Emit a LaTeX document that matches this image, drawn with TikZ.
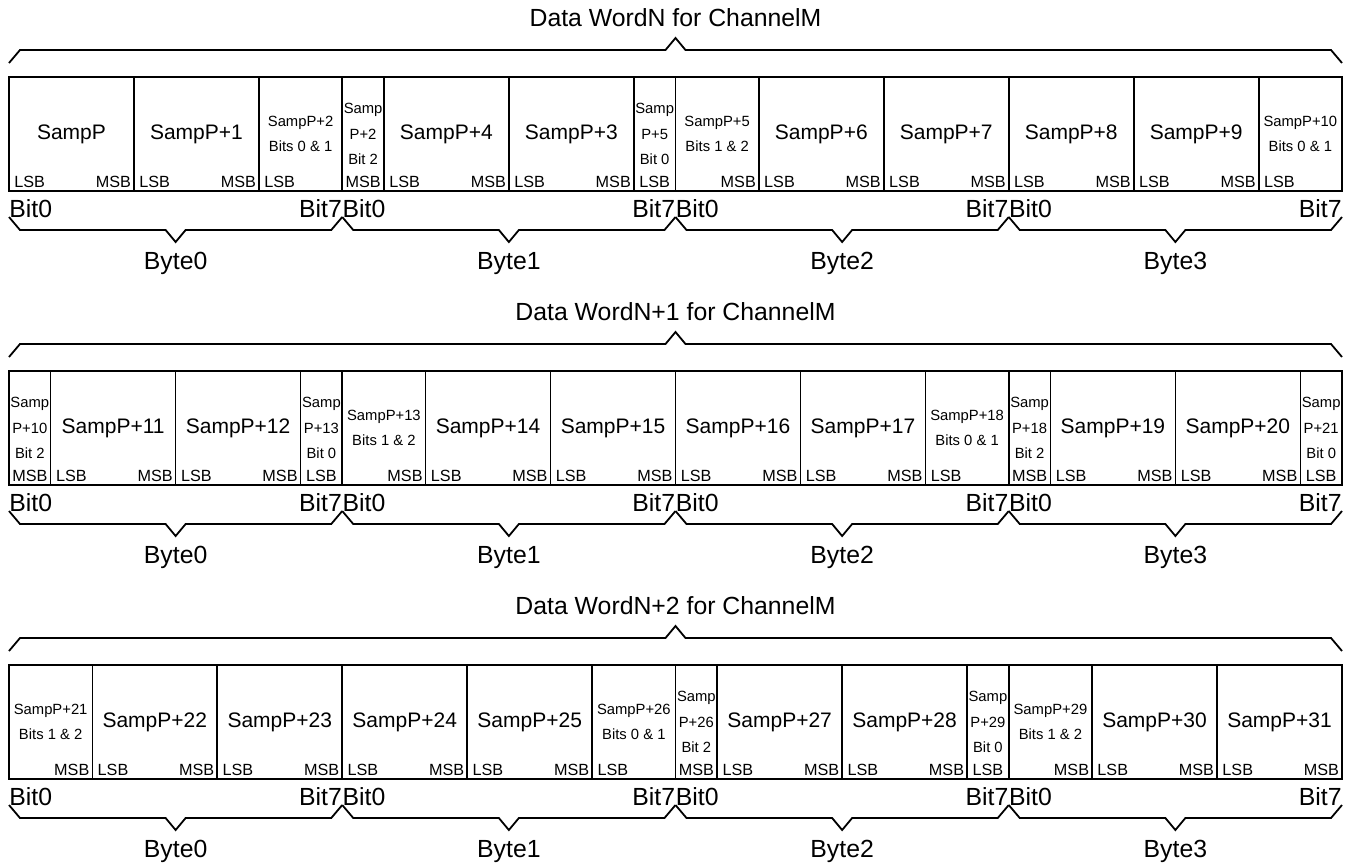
\documentclass[tikz,border=0pt]{standalone}
\usepackage{fontspec}
\setmainfont{Liberation Sans}
\usepackage{tikz}

% square brace: ends at y #3, flat part at y #4, tip at y #5
\newcommand{\wordbrace}[5]{%
  \draw[braceline] (#1,#3) -- ({#1+0.264},#4) -- ({(#1+#2)/2-0.24},#4) -- ({(#1+#2)/2},#5)
    -- ({(#1+#2)/2+0.24},#4) -- ({#2-0.264},#4) -- (#2,#3);}

% Bit0 / Bit7 labels, byte braces and byte names under one word
\newcommand{\bytescale}[1]{%
  \foreach \k in {0,1,2,3}{%
    \node[big, anchor=base west] (#1lo\k) at (8*\k,217) {Bit0};
    \node[big, anchor=base east] (#1hi\k) at (8*\k+8,217) {Bit7};
    \wordbrace{8*\k}{8*\k+8}{217}{230}{242}
    \node[big, anchor=base] (#1by\k) at (8*\k+4,269) {Byte\k};
  }}

\begin{document}
\begin{tikzpicture}[x=20.828pt, y=-0.5pt,
  big/.style={font=\fontsize{12.4}{14}\selectfont, inner sep=0pt},
  braceline/.style={line width=0.9pt, line join=miter},
  frame/.style={line width=1.3pt},
  cell/.style={draw, line width=0.8pt, inner sep=0pt, outer sep=0pt, minimum height=57pt, anchor=north west},
  w3/.style={cell, minimum width=62.48pt, font=\fontsize{10.5}{12}\selectfont},
  w2/.style={cell, minimum width=41.66pt, align=center, font=\fontsize{7.4}{12.6}\selectfont},
  w1/.style={cell, minimum width=20.83pt, align=center, font=\fontsize{7.4}{12.6}\selectfont},
  lsb/.style={font=\fontsize{8.1}{9}\selectfont, inner sep=1.3pt, anchor=south west, xshift=1.2pt},
  msb/.style={font=\fontsize{8.1}{9}\selectfont, inner sep=1.3pt, anchor=south east},
  mid/.style={font=\fontsize{8.1}{9}\selectfont, inner sep=1.3pt, anchor=south}]
  \useasboundingbox (-0.216,0) rectangle (32.24,862);

  % --- Word N ---
  \node[big, anchor=base] (t1) at (16,26) {Data WordN for ChannelM};
  \wordbrace{0}{32}{63}{50}{38}
  \node[w3] (a1) at (0,77) {SampP};    \node[lsb] (a1l) at (a1.south west) {LSB}; \node[msb] (a1m) at (a1.south east) {MSB};
  \node[w3] (a2) at (3,77) {SampP+1};  \node[lsb] (a2l) at (a2.south west) {LSB}; \node[msb] (a2m) at (a2.south east) {MSB};
  \node[w2] (a3) at (6,77) {SampP+2\\Bits 0 \& 1}; \node[lsb] (a3l) at (a3.south west) {LSB};
  \node[w1] (a4) at (8,77) {Samp\\P+2\\Bit 2};     \node[mid] (a4m) at (a4.south) {MSB};
  \node[w3] (a5) at (9,77) {SampP+4};  \node[lsb] (a5l) at (a5.south west) {LSB}; \node[msb] (a5m) at (a5.south east) {MSB};
  \node[w3] (a6) at (12,77) {SampP+3}; \node[lsb] (a6l) at (a6.south west) {LSB}; \node[msb] (a6m) at (a6.south east) {MSB};
  \node[w1] (a7) at (15,77) {Samp\\P+5\\Bit 0};    \node[mid] (a7l) at (a7.south) {LSB};
  \node[w2] (a8) at (16,77) {SampP+5\\Bits 1 \& 2}; \node[msb] (a8m) at (a8.south east) {MSB};
  \node[w3] (a9) at (18,77) {SampP+6}; \node[lsb] (a9l) at (a9.south west) {LSB}; \node[msb] (a9m) at (a9.south east) {MSB};
  \node[w3] (a10) at (21,77) {SampP+7}; \node[lsb] (a10l) at (a10.south west) {LSB}; \node[msb] (a10m) at (a10.south east) {MSB};
  \node[w3] (a11) at (24,77) {SampP+8}; \node[lsb] (a11l) at (a11.south west) {LSB}; \node[msb] (a11m) at (a11.south east) {MSB};
  \node[w3] (a12) at (27,77) {SampP+9}; \node[lsb] (a12l) at (a12.south west) {LSB}; \node[msb] (a12m) at (a12.south east) {MSB};
  \node[w2] (a13) at (30,77) {SampP+10\\Bits 0 \& 1}; \node[lsb] (a13l) at (a13.south west) {LSB};
  \draw[frame] (0,77) rectangle (32,191);
  \bytescale{a}

  % --- Word N+1 ---
  \begin{scope}[yshift=-147pt]
  \node[big, anchor=base] (t2) at (16,26) {Data WordN+1 for ChannelM};
  \wordbrace{0}{32}{63}{50}{38}
  \node[w1] (b1) at (0,77) {Samp\\P+10\\Bit 2};    \node[mid] (b1m) at (b1.south) {MSB};
  \node[w3] (b2) at (1,77) {SampP+11}; \node[lsb] (b2l) at (b2.south west) {LSB}; \node[msb] (b2m) at (b2.south east) {MSB};
  \node[w3] (b3) at (4,77) {SampP+12}; \node[lsb] (b3l) at (b3.south west) {LSB}; \node[msb] (b3m) at (b3.south east) {MSB};
  \node[w1] (b4) at (7,77) {Samp\\P+13\\Bit 0};    \node[mid] (b4l) at (b4.south) {LSB};
  \node[w2] (b5) at (8,77) {SampP+13\\Bits 1 \& 2}; \node[msb] (b5m) at (b5.south east) {MSB};
  \node[w3] (b6) at (10,77) {SampP+14}; \node[lsb] (b6l) at (b6.south west) {LSB}; \node[msb] (b6m) at (b6.south east) {MSB};
  \node[w3] (b7) at (13,77) {SampP+15}; \node[lsb] (b7l) at (b7.south west) {LSB}; \node[msb] (b7m) at (b7.south east) {MSB};
  \node[w3] (b8) at (16,77) {SampP+16}; \node[lsb] (b8l) at (b8.south west) {LSB}; \node[msb] (b8m) at (b8.south east) {MSB};
  \node[w3] (b9) at (19,77) {SampP+17}; \node[lsb] (b9l) at (b9.south west) {LSB}; \node[msb] (b9m) at (b9.south east) {MSB};
  \node[w2] (b10) at (22,77) {SampP+18\\Bits 0 \& 1}; \node[lsb] (b10l) at (b10.south west) {LSB};
  \node[w1] (b11) at (24,77) {Samp\\P+18\\Bit 2};   \node[mid] (b11m) at (b11.south) {MSB};
  \node[w3] (b12) at (25,77) {SampP+19}; \node[lsb] (b12l) at (b12.south west) {LSB}; \node[msb] (b12m) at (b12.south east) {MSB};
  \node[w3] (b13) at (28,77) {SampP+20}; \node[lsb] (b13l) at (b13.south west) {LSB}; \node[msb] (b13m) at (b13.south east) {MSB};
  \node[w1] (b14) at (31,77) {Samp\\P+21\\Bit 0};   \node[mid] (b14l) at (b14.south) {LSB};
  \draw[frame] (0,77) rectangle (32,191);
  \bytescale{b}
  \end{scope}

  % --- Word N+2 ---
  \begin{scope}[yshift=-294pt]
  \node[big, anchor=base] (t3) at (16,26) {Data WordN+2 for ChannelM};
  \wordbrace{0}{32}{63}{50}{38}
  \node[w2] (c1) at (0,77) {SampP+21\\Bits 1 \& 2}; \node[msb] (c1m) at (c1.south east) {MSB};
  \node[w3] (c2) at (2,77) {SampP+22}; \node[lsb] (c2l) at (c2.south west) {LSB}; \node[msb] (c2m) at (c2.south east) {MSB};
  \node[w3] (c3) at (5,77) {SampP+23}; \node[lsb] (c3l) at (c3.south west) {LSB}; \node[msb] (c3m) at (c3.south east) {MSB};
  \node[w3] (c4) at (8,77) {SampP+24}; \node[lsb] (c4l) at (c4.south west) {LSB}; \node[msb] (c4m) at (c4.south east) {MSB};
  \node[w3] (c5) at (11,77) {SampP+25}; \node[lsb] (c5l) at (c5.south west) {LSB}; \node[msb] (c5m) at (c5.south east) {MSB};
  \node[w2] (c6) at (14,77) {SampP+26\\Bits 0 \& 1}; \node[lsb] (c6l) at (c6.south west) {LSB};
  \node[w1] (c7) at (16,77) {Samp\\P+26\\Bit 2};   \node[mid] (c7m) at (c7.south) {MSB};
  \node[w3] (c8) at (17,77) {SampP+27}; \node[lsb] (c8l) at (c8.south west) {LSB}; \node[msb] (c8m) at (c8.south east) {MSB};
  \node[w3] (c9) at (20,77) {SampP+28}; \node[lsb] (c9l) at (c9.south west) {LSB}; \node[msb] (c9m) at (c9.south east) {MSB};
  \node[w1] (c10) at (23,77) {Samp\\P+29\\Bit 0};  \node[mid] (c10l) at (c10.south) {LSB};
  \node[w2] (c11) at (24,77) {SampP+29\\Bits 1 \& 2}; \node[msb] (c11m) at (c11.south east) {MSB};
  \node[w3] (c12) at (26,77) {SampP+30}; \node[lsb] (c12l) at (c12.south west) {LSB}; \node[msb] (c12m) at (c12.south east) {MSB};
  \node[w3] (c13) at (29,77) {SampP+31}; \node[lsb] (c13l) at (c13.south west) {LSB}; \node[msb] (c13m) at (c13.south east) {MSB};
  \draw[frame] (0,77) rectangle (32,191);
  \bytescale{c}
  \end{scope}
\end{tikzpicture}
\end{document}
